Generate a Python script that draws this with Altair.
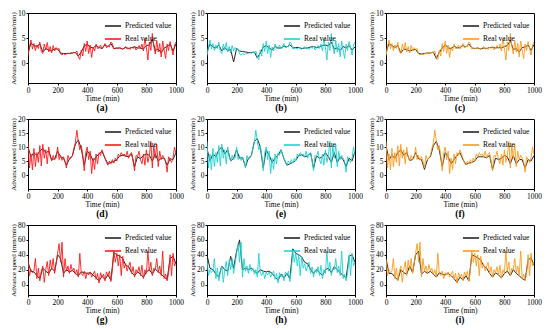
import altair as alt
import pandas as pd

time_real = list(range(0, 1001, 10))
time_pred = list(range(0, 1001, 20))

real_1 = [1.5, 3.2, 4.6, 2.8, 3.9, 2.5, 3.6, 2.9, 4.2, 2.3,
          1.9, 3.8, 2.6, 4.1, 2.2, 3.3, 2.0, 3.5, 2.4, 3.1,
          2.7, 2.9, 1.8, 1.6, 1.9, 1.7, 1.8, 2.0, 1.8, 2.1,
          1.9, 2.2, 2.0, 2.4, 1.2, 0.7, 2.6, 1.4, 3.9, 2.3,
          4.4, 1.9, 3.6, 1.1, 3.2, 2.4, 3.8, 2.9, 3.0, 3.6,
          2.8, 3.3, 3.9, 3.0, 3.4, 3.2, 4.2, 3.9, 2.8, 2.9,
          3.0, 2.8, 3.1, 2.9, 2.7, 3.0, 3.3, 2.8, 3.0, 2.7,
          3.2, 2.9, 3.4, 2.6, 3.0, 3.5, 2.9, 3.8, 2.4, 5.0,
          3.1, 0.6, 4.2, 2.5, 5.9, 3.4, 1.8, 4.5, 2.2, 3.9,
          1.2, 4.4, 2.6, 0.9, 3.8, 2.5, 4.3, 3.0, 1.6, 3.6,
          4.2]

real_2 = [12.0, 2.5, 7.5, 1.8, 9.5, 3.0, 8.0, 4.5, 10.5, 3.2,
          11.0, 6.0, 9.0, 4.0, 10.0, 6.5, 5.0, 7.0, 5.5, 6.0,
          10.0, 5.5, 7.0, 5.2, 6.5, 4.8, 2.5, 7.0, 5.5, 6.0,
          7.0, 9.5, 11.5, 16.0, 12.0, 9.0, 10.5, 7.0, 1.5, 8.0,
          10.0, 5.5, 8.5, 0.5, 6.0, 2.0, 7.5, 4.0, 8.0, 7.0,
          9.0, 7.5, 6.0, 4.5, 3.5, 5.0, 4.0, 5.5, 4.2, 6.0,
          5.0, 7.5, 6.5, 8.0, 7.0, 7.5, 6.5, 8.5, 6.0, 7.5,
          8.0, 5.0, 1.5, 7.0, 6.5, 8.5, 5.5, 4.0, 7.5, 3.5,
          9.0, 4.5, 7.0, 12.0, 2.5, 10.5, 6.0, 11.0, 3.0, 8.5,
          5.5, 7.0, 6.0, 5.0, 1.0, 6.5, 5.5, 4.5, 6.0, 10.0,
          7.5]

real_3 = [34, 12, 20, 16, 18, 35, 8, 22, 5, 18,
          25, 3, 20, 31, 12, 33, 20, 35, 15, 28,
          42, 55, 30, 57, 10, 35, 18, 25, 15, 27,
          18, 22, 14, 20, 10, 42, 15, 12, 18, 8,
          16, 13, 17, 10, 14, 18, 7, 15, 2, 16,
          10, 14, 5, 17, 12, 18, 4, 20, 45, 30,
          42, 25, 40, 12, 38, 22, 28, 18, 25, 30,
          15, 24, 10, 20, 16, 24, 12, 26, 8, 20,
          15, 45, 18, 30, 12, 22, 20, 35, 16, 25,
          12, 45, 8, 14, 5, 15, 40, 12, 42, 25,
          30]

pred_a = [2.0, 4.0, 3.5, 3.3, 3.8, 2.2, 2.9, 2.6, 2.5, 2.8,
          2.8, 2.0, 1.9, 1.9, 1.9, 2.0, 2.1, 1.4, 2.2, 3.4,
          3.8, 3.2, 3.0, 3.5, 3.1, 2.9, 3.6, 3.3, 3.9, 2.9,
          3.0, 3.0, 2.8, 3.1, 2.9, 3.1, 3.2, 3.0, 3.0, 2.8,
          3.5, 3.6, 4.8, 2.5, 2.8, 2.0, 3.0, 3.3, 3.8, 2.4,
          3.8]
pred_b = [2.2, 3.8, 3.2, 3.0, 3.6, 2.4, 3.1, 2.5, 2.7, 0.2,
          2.9, 2.4, 2.3, 2.2, 2.1, 2.1, 2.2, 1.0, 2.0, 3.2,
          3.5, 3.0, 2.6, 3.3, 3.0, 3.0, 3.4, 3.2, 3.7, 3.0,
          3.1, 3.1, 2.9, 3.0, 3.0, 3.2, 3.3, 3.1, 3.2, 3.5,
          3.6, 3.4, 4.2, 2.8, 3.0, 2.5, 3.3, 3.0, 3.5, 2.6,
          3.2]
pred_c = [2.1, 3.9, 3.4, 3.1, 3.5, 2.0, 2.8, 2.7, 2.4, 2.6,
          2.7, 1.9, 1.8, 1.9, 2.0, 2.0, 2.2, 0.9, 2.1, 3.0,
          3.6, 3.1, 2.8, 3.4, 3.0, 3.1, 3.5, 3.2, 3.8, 3.0,
          2.9, 3.0, 2.8, 3.0, 2.9, 3.1, 3.1, 3.0, 3.1, 3.0,
          3.3, 3.5, 4.5, 2.7, 2.9, 2.2, 3.1, 3.2, 3.6, 2.5,
          3.7]
pred_d = [10.0, 6.5, 8.0, 7.0, 8.5, 9.5, 8.0, 8.5, 5.5, 5.8,
          8.5, 6.5, 6.0, 3.5, 5.8, 6.8, 11.0, 12.5, 9.5, 3.5,
          8.5, 7.5, 5.0, 6.5, 7.5, 8.5, 6.0, 4.0, 4.5, 4.8,
          5.5, 6.8, 7.0, 6.8, 6.5, 7.5, 3.0, 6.5, 5.8, 7.0,
          7.5, 7.0, 5.0, 7.5, 5.0, 6.0, 6.0, 3.5, 5.8, 5.5,
          8.0]
pred_e = [9.5, 5.0, 7.5, 6.5, 9.0, 10.0, 7.5, 9.0, 5.0, 6.0,
          9.0, 6.0, 6.2, 3.0, 6.0, 7.0, 12.0, 13.0, 10.0, 2.5,
          9.0, 7.0, 4.5, 6.0, 7.0, 9.0, 5.8, 3.5, 4.0, 4.5,
          5.2, 7.0, 7.2, 6.5, 6.8, 7.8, 2.5, 6.8, 6.0, 6.5,
          8.0, 6.5, 4.5, 8.0, 4.5, 6.5, 5.5, 3.0, 6.0, 5.0,
          8.5]
pred_f = [10.5, 5.5, 7.0, 6.0, 8.0, 9.0, 7.0, 8.0, 5.2, 5.5,
          8.0, 5.8, 5.5, 2.0, 5.5, 6.5, 10.5, 12.0, 9.0, 3.0,
          8.0, 6.5, 4.0, 5.5, 7.0, 8.0, 5.5, 3.8, 4.2, 4.5,
          5.0, 6.5, 6.5, 6.5, 6.2, 7.0, 2.0, 6.0, 5.5, 6.0,
          7.0, 6.5, 4.0, 7.0, 4.0, 5.5, 5.5, 2.5, 5.5, 5.0,
          7.0]
pred_g = [30, 18, 17, 12, 8, 22, 18, 15, 22, 18,
          40, 35, 15, 20, 17, 19, 15, 12, 17, 16,
          15, 16, 13, 9, 5, 11, 7, 13, 6, 43,
          40, 38, 35, 26, 24, 16, 12, 17, 14, 10,
          17, 20, 14, 21, 17, 14, 10, 7, 35, 38,
          28]
pred_h = [40, 22, 20, 14, 10, 25, 20, 18, 38, 22,
          45, 60, 20, 22, 20, 22, 18, 15, 20, 18,
          17, 18, 15, 10, 6, 14, 9, 15, 8, 48,
          42, 40, 37, 30, 28, 20, 15, 20, 16, 12,
          20, 22, 16, 24, 20, 16, 12, 9, 38, 40,
          30]
pred_i = [35, 15, 15, 10, 6, 20, 16, 14, 25, 16,
          40, 45, 14, 18, 15, 18, 14, 10, 16, 14,
          13, 15, 12, 8, 3, 10, 6, 12, 5, 40,
          38, 36, 33, 25, 22, 15, 10, 16, 13, 9,
          15, 18, 12, 20, 15, 12, 8, 6, 33, 36,
          26]

series_names = ["Predicted value", "Real value"]
real_colors = ["#ff1a1a", "#1ed2d2", "#ff9a1a"]
pred_color = "#262626"
panel_labels = ["(a)", "(b)", "(c)", "(d)", "(e)", "(f)", "(g)", "(h)", "(i)"]
x_ticks = [0, 200, 400, 600, 800, 1000]
row_domains = [[-4, 10], [-5, 20], [-14, 80]]
row_ticks = [[0, 5, 10], [0, 5, 10, 15, 20], [0, 20, 40, 60, 80]]
reals = [real_1, real_2, real_3]
preds = [[pred_a, pred_b, pred_c], [pred_d, pred_e, pred_f], [pred_g, pred_h, pred_i]]

FONT = "Liberation Serif"
W, H = 148, 70


def panel(real, pred, color, label, ydom, yvals):
    df_r = pd.DataFrame({"t": time_real, "v": real, "s": series_names[1]})
    df_p = pd.DataFrame({"t": time_pred, "v": pred, "s": series_names[0]})
    x = alt.X("t:Q", scale=alt.Scale(domain=[0, 1000], nice=False),
              axis=alt.Axis(values=x_ticks, title="Time (min)", labelFlush=False, format="d"))
    y = alt.Y("v:Q", scale=alt.Scale(domain=ydom, nice=False),
              axis=alt.Axis(values=yvals, title="Advance speed (mm/min)", format="d"))
    col = alt.Color("s:N",
                    scale=alt.Scale(domain=series_names, range=[pred_color, color]),
                    legend=alt.Legend(title=None, orient="top-right", symbolType="stroke",
                                      symbolSize=260, symbolStrokeWidth=1.6,
                                      labelFont=FONT, labelFontSize=7.5, labelColor="black",
                                      rowPadding=-6, padding=0, offset=4, labelOffset=3))
    p = alt.Chart(df_p).mark_line(strokeWidth=1, clip=True).encode(x=x, y=y, color=col)
    r = alt.Chart(df_r).mark_line(strokeWidth=0.9, clip=True).encode(x=x, y=y, color=col)
    return alt.layer(p, r).properties(
        width=W, height=H,
        title=alt.TitleParams(label, orient="bottom", font=FONT, fontSize=9.5,
                              fontWeight="bold", offset=1, color="black"))


rows = []
k = 0
for i in range(3):
    panels = []
    for j in range(3):
        panels.append(panel(reals[i], preds[i][j], real_colors[j], panel_labels[k],
                            row_domains[i], row_ticks[i]))
        k += 1
    rows.append(alt.hconcat(*panels, spacing=3).resolve_scale(
        color="independent", x="independent", y="independent"))

chart = alt.vconcat(*rows, spacing=1).resolve_scale(
    color="independent", x="independent", y="independent"
).properties(
    padding={"left": 0, "top": 0, "right": 0, "bottom": 0}
).configure_view(
    stroke="black", strokeWidth=1
).configure_axis(
    grid=False, labelFont=FONT, titleFont=FONT, labelFontSize=7.5, titleFontSize=7.5,
    titleFontWeight="normal", labelColor="black", titleColor="black",
    domainColor="black", tickColor="black", tickSize=2, labelPadding=1,
    titlePadding=1
).configure_axisY(
    titleFontSize=7
)

chart.save("out.html", embed_options={"renderer": "svg", "actions": False})
